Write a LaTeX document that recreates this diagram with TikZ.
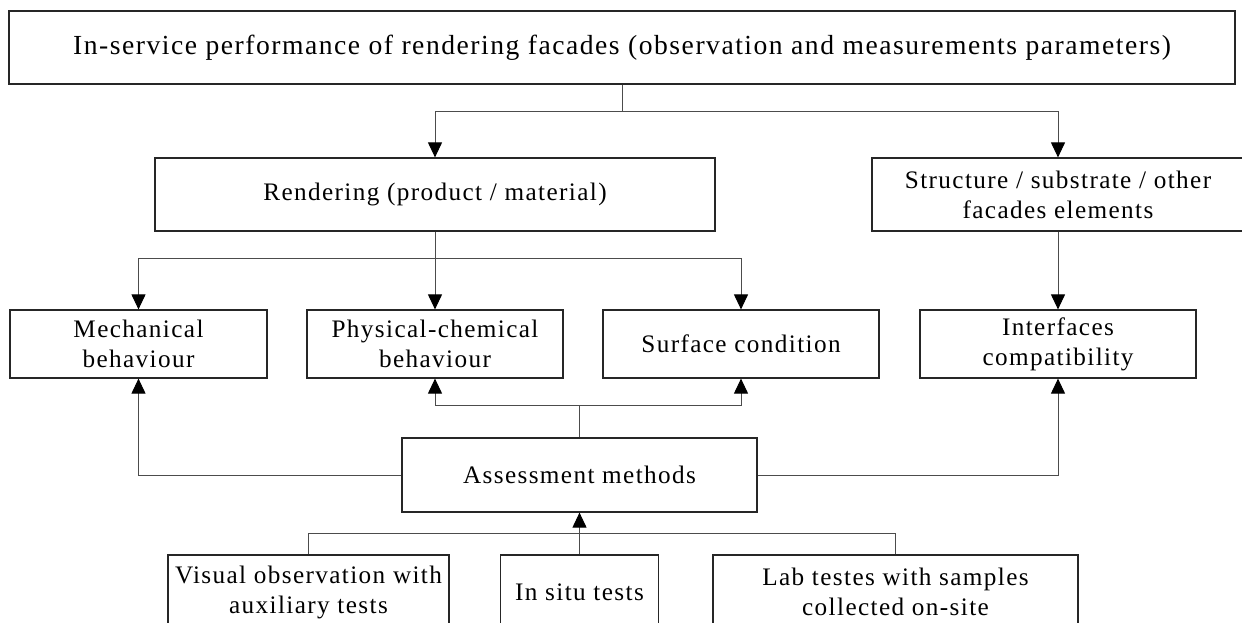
\documentclass[tikz,border=0pt]{standalone}
\usepackage{fontspec}
\setmainfont[LetterSpace=5.5]{Liberation Serif}
\usepackage{tikz}
\usetikzlibrary{arrows.meta,positioning}

\begin{document}
\begin{tikzpicture}[x=0.5pt, y=-0.5pt,
  box/.style={rectangle, draw=black!85, line width=0.6pt, minimum height=36.5pt, align=center, inner sep=0pt,
    font=\fontsize{12.6}{15}\selectfont},
  line/.style={draw=black!70, line width=0.5pt},
  arr/.style={line, -{Triangle[width=7pt,length=7.5pt,color=black]}}]
\useasboundingbox (0,0) rectangle (1242,622);
\clip (0,0) rectangle (1242,622);
\node[box, minimum width=613pt, font=\fontsize{13.8}{15}\selectfont] (perf) at (622,47.5) {In-service performance of rendering facades (observation and measurements parameters)};
\node[box, minimum width=280pt] (rend) at (435,194.5) {Rendering (product / material)};
\node[box, minimum width=186pt] (struct) at (1058,194.5) {Structure / substrate / other\\facades elements};
\node[box, minimum width=128.5pt, minimum height=34pt] (mech) at (138.5,344) {Mechanical\\behaviour};
\node[box, minimum width=128pt, minimum height=34pt] (phys) at (435,344) {Physical-chemical\\behaviour};
\node[box, minimum width=138pt, minimum height=34pt] (surf) at (741,344) {Surface condition};
\node[box, minimum width=138pt, minimum height=34pt] (interf) at (1058,344) {Interfaces\\compatibility};
\node[box, minimum width=177.5pt, minimum height=37pt] (assess) at (579.5,475) {Assessment methods};
\node[box, minimum width=140.5pt, minimum height=37pt] (visual) at (308.5,592) {Visual observation with\\auxiliary tests};
\node[box, minimum width=79pt, minimum height=37pt] (insitu) at (579.5,592) {In situ tests};
\node[box, minimum width=182.5pt, minimum height=37pt] (lab) at (895.5,592) {Lab testes with samples\\collected on-site};
\coordinate (j1) at (622,111);
\coordinate (j2) at (435,258);
\coordinate (j3) at (579.5,405);
\coordinate (j4) at (579.5,533);
\draw[line] (perf.south) -- (j1);
\draw[arr] (j1) -| (rend.north);
\draw[arr] (j1) -| (struct.north);
\draw[arr] (rend.south) -- (phys.north);
\draw[arr] (j2) -| (mech.north);
\draw[arr] (j2) -| (surf.north);
\draw[arr] (struct.south) -- (interf.north);
\draw[line] (assess.north) -- (j3);
\draw[arr] (j3) -| (phys.south);
\draw[arr] (j3) -| (surf.south);
\draw[arr] (assess.west) -| (mech.south);
\draw[arr] (assess.east) -| (interf.south);
\draw[arr] (insitu.north) -- (assess.south);
\draw[line] (j4) -| (visual.north);
\draw[line] (j4) -| (lab.north);
\end{tikzpicture}
\end{document}
